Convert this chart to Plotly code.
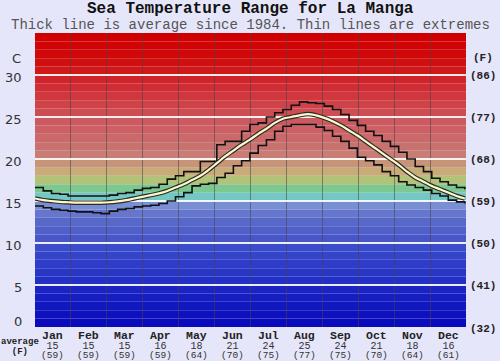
import plotly.graph_objects as go

# ---------------- data ----------------
months = ["Jan", "Feb", "Mar", "Apr", "May", "Jun", "Jul", "Aug", "Sep", "Oct", "Nov", "Dec"]
avg_c_label = [15, 15, 15, 16, 18, 21, 24, 25, 24, 21, 18, 16]
avg_f_label = [59, 59, 59, 59, 64, 70, 75, 77, 75, 70, 64, 61]

weeks = list(range(53))  # week index, day = 7*week
avg_temp = [15.3, 15.1, 15.0, 14.9, 14.85, 14.8, 14.8, 14.8, 14.8, 14.85, 14.95, 15.1, 15.3,
            15.5, 15.7, 15.9, 16.2, 16.6, 17.0, 17.5, 18.0, 18.7, 19.5, 20.3, 21.0, 21.7,
            22.3, 23.0, 23.6, 24.3, 24.8, 25.0, 25.2, 25.35, 25.2, 24.9, 24.5, 24.0, 23.4,
            22.8, 22.1, 21.4, 20.7, 20.0, 19.3, 18.5, 17.8, 17.3, 16.8, 16.4, 16.0, 15.6, 15.3]
max_temp = [16.6, 16.2, 15.9, 15.8, 15.6, 15.6, 15.6, 15.6, 15.6, 15.7, 15.9, 16.0, 16.3,
            16.5, 16.6, 17.0, 17.6, 18.0, 18.5, 18.5, 19.7, 19.7, 21.7, 22.1, 22.1, 23.3,
            24.1, 24.3, 25.0, 25.5, 25.9, 26.4, 26.8, 26.7, 26.6, 26.3, 25.9, 25.3, 24.6,
            24.0, 23.3, 22.8, 22.1, 21.5, 20.8, 20.0, 19.1, 18.5, 17.7, 17.3, 16.9, 16.6, 16.4]
min_temp = [14.4, 14.2, 14.0, 13.9, 13.8, 13.7, 13.7, 13.6, 13.5, 13.8, 14.0, 14.1, 14.3,
            14.4, 14.5, 14.7, 15.0, 15.5, 16.0, 16.8, 17.0, 17.1, 17.8, 18.3, 19.2, 19.8,
            20.7, 21.6, 22.3, 23.3, 23.9, 24.1, 24.1, 24.1, 23.8, 23.4, 22.7, 22.1, 21.3,
            20.2, 19.8, 19.3, 18.5, 18.0, 17.3, 16.9, 16.6, 16.3, 15.9, 15.6, 15.1, 14.9, 14.7]

c_ticks = [0, 5, 10, 15, 20, 25, 30]
f_ticks = ["(32)", "(41)", "(50)", "(59)", "(68)", "(77)", "(86)"]

# ---------------- style ----------------
band_colors = [
    "#0a0cbc", "#0e12be", "#1218c0", "#161ec2", "#1a24c4",      # 0-5
    "#2230c6", "#2836c6", "#2e3cc8", "#3444c8", "#3a4cca",      # 5-10
    "#4856c8", "#5060c8", "#5868c8", "#6676cc", "#7a8ed4",      # 10-15
    "#74c8c4", "#7cc890", "#b2c278", "#c8ac78", "#c89478",      # 15-20
    "#c87c74", "#c87270", "#ca686a", "#cc6064", "#cc5860",      # 20-25
    "#ce4c52", "#ce4248", "#d0383e", "#d02e34", "#d0242a",      # 25-30
    "#d01818", "#d01010", "#d00808", "#d00404", "#d00000",      # 30-35
]
bg = "#e6e6fa"
mono = "Liberation Mono, Courier New, monospace"

x_week = [w * 7 / 365 * 12 for w in weeks]

fig = go.Figure()

fig.add_trace(go.Scatter(x=x_week, y=max_temp, mode="lines", line=dict(color="#111111", width=1.6, shape="hv"),
                         hoverinfo="skip", showlegend=False))
fig.add_trace(go.Scatter(x=x_week, y=min_temp, mode="lines", line=dict(color="#111111", width=1.6, shape="hv"),
                         hoverinfo="skip", showlegend=False))
fig.add_trace(go.Scatter(x=x_week, y=avg_temp, mode="lines", line=dict(color="#2a2a2a", width=4.5, shape="spline"),
                         hoverinfo="skip", showlegend=False))
fig.add_trace(go.Scatter(x=x_week, y=avg_temp, mode="lines", line=dict(color="#fcf8c8", width=2.2, shape="spline"),
                         hoverinfo="skip", showlegend=False))

shapes = []
for i, col in enumerate(band_colors):
    shapes.append(dict(type="rect", xref="x", yref="y", x0=0, x1=12, y0=i, y1=i + 1,
                       fillcolor=col, line=dict(width=0), layer="below"))

annotations = []
for v in c_ticks:
    annotations.append(dict(x=0, xref="paper", y=v, yref="y", text=str(v), showarrow=False,
                            xanchor="right", yanchor="middle", xshift=-11, yshift=-2 if v else 6,
                            font=dict(family="DejaVu Sans, Verdana, sans-serif", size=13, color="#333333")))
annotations.append(dict(x=0, xref="paper", y=32, yref="y", text="C", showarrow=False,
                        xanchor="right", yanchor="middle", xshift=-12,
                        font=dict(family="DejaVu Sans, Verdana, sans-serif", size=13, color="#333333")))
for v, t in zip(c_ticks, f_ticks):
    annotations.append(dict(x=1, xref="paper", y=v, yref="y", text="<b>" + t + "</b>", showarrow=False,
                            xanchor="center", yanchor="middle", xshift=17, yshift=-1 if v else -2,
                            font=dict(family=mono, size=11, color="#222222")))
annotations.append(dict(x=1, xref="paper", y=32, yref="y", text="<b>(F)</b>", showarrow=False,
                        xanchor="center", yanchor="middle", xshift=17,
                        font=dict(family=mono, size=11, color="#222222")))

for i, m in enumerate(months):
    xc = i + 0.5
    txt = ("<span style='font-size:11.5px;color:#222222'><b>" + m + "</b></span><br>"
           "<span style='font-size:10px'>" + str(avg_c_label[i]) + "</span><br>"
           "<span style='font-size:9.5px'>(" + str(avg_f_label[i]) + ")</span>")
    annotations.append(dict(x=xc, xref="x", y=0, yref="paper", text=txt, showarrow=False,
                            xanchor="center", yanchor="top", yshift=0,
                            font=dict(family=mono, size=7.4, color="#333333")))
annotations.append(dict(x=(20 - 35) / 431, xref="paper", y=0, yref="paper",
                        text="<span style='font-size:9px'><b>average</b></span><br>"
                             "<span style='font-size:9px'><b>(F)</b></span>",
                        showarrow=False, xanchor="center", yanchor="top", yshift=-8,
                        font=dict(family=mono, size=7.4, color="#222222")))

annotations.append(dict(x=0.5, xref="paper", y=1, yref="paper", text="<b>Sea Temperature Range for La Manga</b>",
                        showarrow=False, xanchor="center", yanchor="middle", yshift=24,
                        xshift=250 - (35 + 431 / 2),
                        font=dict(family=mono, size=16, color="#111111")))
annotations.append(dict(x=0.5, xref="paper", y=1, yref="paper",
                        text="Thick line is average since 1984. Thin lines are extremes",
                        showarrow=False, xanchor="center", yanchor="middle", yshift=8,
                        xshift=250 - (35 + 431 / 2),
                        font=dict(family=mono, size=14, color="#555555")))

fig.update_layout(
    width=500, height=361,
    margin=dict(l=35, r=34, t=33, b=34),
    paper_bgcolor=bg, plot_bgcolor=bg,
    shapes=shapes, annotations=annotations,
    xaxis=dict(range=[0, 12], tickvals=list(range(13)), showticklabels=False, ticks="",
               showgrid=True, gridcolor="rgba(70,70,70,0.55)", gridwidth=1, zeroline=False, showline=False,
               fixedrange=True),
    yaxis=dict(range=[0, 35], tickvals=c_ticks, showticklabels=False, ticks="",
               showgrid=True, gridcolor="rgba(255,255,255,0.9)", gridwidth=2, zeroline=False, showline=False,
               fixedrange=True),
    showlegend=False,
)

fig.write_html("out.html", config={"displayModeBar": False},
               post_script="document.body.style.margin='0';document.body.style.background='" + bg + "';")
